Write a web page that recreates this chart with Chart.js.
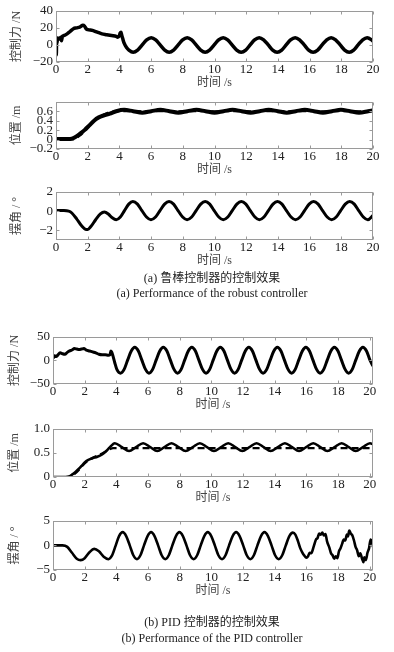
<!DOCTYPE html>
<html>
<head>
<meta charset="utf-8">
<script src="https://cdn.jsdelivr.net/npm/chart.js@4"></script>
<style>
  body { margin: 0; background: #fff; width: 394px; height: 652px; position: relative; overflow: hidden; }
  .panel { position: absolute; left: 0; width: 394px; }
  .cap { position: absolute; left: 12px; width: 400px; text-align: center; font-size: 12px; line-height: 16px;
         color: #222; font-family: "Liberation Serif", "Noto Sans CJK SC", serif; white-space: nowrap; }
</style>
</head>
<body>
<div class="panel" style="top:0"><canvas id="c1" width="394" height="92"></canvas></div>
<div class="panel" style="top:91px"><canvas id="c2" width="394" height="88"></canvas></div>
<div class="panel" style="top:181px"><canvas id="c3" width="394" height="89"></canvas></div>
<div class="cap" style="top:270px">(a) 鲁棒控制器的控制效果</div>
<div class="cap" style="top:285px">(a) Performance of the robust controller</div>
<div class="panel" style="top:326px"><canvas id="c4" width="394" height="88"></canvas></div>
<div class="panel" style="top:418px"><canvas id="c5" width="394" height="89"></canvas></div>
<div class="panel" style="top:510px"><canvas id="c6" width="394" height="90"></canvas></div>
<div class="cap" style="top:614px">(b) PID 控制器的控制效果</div>
<div class="cap" style="top:630px">(b) Performance of the PID controller</div>

<script>
// 坐标刻度
const timeTicks = [0, 2, 4, 6, 8, 10, 12, 14, 16, 18, 20];
const forceTicksA = [-20, 0, 20, 40];
const posTicksA = [-0.2, 0, 0.2, 0.4, 0.6];
const angleTicksA = [-2, 0, 2];
const forceTicksB = [-50, 0, 50];
const posTicksB = [0, 0.5, 1.0];
const angleTicksB = [-5, 0, 5];

// (a) 鲁棒控制器：控制力
const forceA_t = [0, 0.02, 0.04, 0.06, 0.1, 0.2, 0.3, 0.35, 0.4, 0.5, 0.7, 0.9, 1.1, 1.3, 1.5, 1.7, 1.8, 1.9, 2.0, 2.3, 2.6, 2.9, 3.2, 3.5, 3.8, 3.9, 4.0, 4.05, 4.1, 4.15, 4.2, 4.3, 4.45, 4.6,
  4.87, 5.15, 5.44, 5.72, 6.01, 6.29, 6.57, 6.86, 7.14, 7.42, 7.71, 7.99, 8.28, 8.56, 8.84, 9.13, 9.41, 9.69, 9.98, 10.26, 10.55, 10.83, 11.11, 11.40,
  11.68, 11.97, 12.25, 12.53, 12.82, 13.10, 13.39, 13.67, 13.95, 14.24, 14.52, 14.80, 15.09, 15.37, 15.66, 15.94, 16.22, 16.51, 16.79, 17.08,
  17.36, 17.64, 17.93, 18.21, 18.50, 18.78, 19.06, 19.35, 19.63, 19.91, 20.0];
const forceA_v = [0, -12, 8, 2, 8, 7, 9, 5, 10, 11, 13, 16, 19, 20, 21, 23, 22, 19, 18, 17, 15, 13, 12, 11, 10, 9, 11, 14, 15, 11, 8, 2, -3, -6,
  -8.5, -6, 0, 6, 8.5, 6, 0, -6, -8.5, -6, 0, 6, 8.5, 6, 0, -6, -8.5, -6, 0, 6, 8.5, 6, 0, -6,
  -8.5, -6, 0, 6, 8.5, 6, 0, -6, -8.5, -6, 0, 6, 8.5, 6, 0, -6, -8.5, -6, 0, 6,
  8.5, 6, 0, -6, -8.5, -6, 0, 6, 8.5, 6, 4.5];

// (a) 位置与期望位置
const posA_t = [0, 0.8, 1.0, 1.2, 1.5, 1.8, 2.1, 2.4, 2.7, 3.0, 3.4, 3.8, 4.3, 4.87, 5.44, 6.01, 6.58, 7.15, 7.72, 8.29, 8.86, 9.43, 10.0, 10.57,
  11.14, 11.71, 12.28, 12.85, 13.42, 13.99, 14.56, 15.13, 15.7, 16.27, 16.84, 17.41, 17.98, 18.55, 19.12, 19.69, 20.0];
const posA_v = [0.01, 0.01, 0.02, 0.05, 0.12, 0.2, 0.3, 0.4, 0.47, 0.51, 0.55, 0.6, 0.63, 0.6, 0.57, 0.6, 0.63, 0.6, 0.57, 0.6, 0.63, 0.6, 0.57, 0.6,
  0.63, 0.6, 0.57, 0.6, 0.63, 0.6, 0.57, 0.6, 0.63, 0.6, 0.57, 0.6, 0.63, 0.6, 0.57, 0.6, 0.62];
const refA_t = [0, 1.0, 1.5, 2.0, 2.5, 3.0, 3.5, 4.0, 20.0];
const refA_v = [0, 0, 0.08, 0.25, 0.42, 0.53, 0.59, 0.6, 0.6];

// (a) 摆角
const angleA_t = [0, 0.5, 0.8, 1.0, 1.3, 1.6, 1.9, 2.0, 2.2, 2.5, 2.8, 3.05, 3.3, 3.55, 3.8, 4.06, 4.32, 4.59,
  4.85, 5.14, 5.42, 5.71, 5.99, 6.28, 6.56, 6.85, 7.13, 7.42, 7.70, 7.99, 8.27, 8.56, 8.84, 9.13, 9.41, 9.70, 9.98, 10.27, 10.55, 10.84, 11.12, 11.41,
  11.69, 11.98, 12.26, 12.55, 12.83, 13.12, 13.40, 13.69, 13.97, 14.26, 14.54, 14.83, 15.11, 15.40, 15.68, 15.97, 16.25, 16.54, 16.82, 17.11,
  17.39, 17.68, 17.96, 18.25, 18.53, 18.82, 19.10, 19.39, 19.67, 20.0];
const angleA_v = [0.05, 0.05, 0, -0.2, -0.8, -1.5, -1.9, -1.9, -1.6, -0.9, -0.3, -0.1, -0.3, -0.7, -0.9, -0.62, 0.05, 0.72,
  1.0, 0.72, 0.05, -0.62, -0.9, -0.62, 0.05, 0.72, 1.0, 0.72, 0.05, -0.62, -0.9, -0.62, 0.05, 0.72, 1.0, 0.72, 0.05, -0.62, -0.9, -0.62, 0.05, 0.72,
  1.0, 0.72, 0.05, -0.62, -0.9, -0.62, 0.05, 0.72, 1.0, 0.72, 0.05, -0.62, -0.9, -0.62, 0.05, 0.72, 1.0, 0.72, 0.05, -0.62,
  -0.9, -0.62, 0.05, 0.72, 1.0, 0.72, 0.05, -0.62, -0.9, -0.45];

// (b) PID 控制器：控制力
const forceB_t = [0, 0.05, 0.1, 0.2, 0.3, 0.45, 0.6, 0.75, 0.9, 1.05, 1.2, 1.35, 1.5, 1.65, 1.8, 1.95, 2.1, 2.3, 2.5, 2.7, 2.9, 3.1, 3.3, 3.5, 3.6, 3.65, 3.7, 3.78, 3.9, 4.03,
  4.26, 4.49, 4.71, 4.94, 5.16, 5.39, 5.61, 5.84, 6.06, 6.29, 6.51, 6.74, 6.96, 7.19, 7.41, 7.64, 7.86, 8.09, 8.31, 8.54, 8.76, 8.99, 9.21, 9.44,
  9.66, 9.89, 10.11, 10.34, 10.56, 10.79, 11.01, 11.24, 11.46, 11.69, 11.91, 12.14, 12.36, 12.59, 12.81, 13.04, 13.26, 13.49, 13.71, 13.94,
  14.16, 14.39, 14.61, 14.84, 15.06, 15.29, 15.51, 15.74, 15.96, 16.19, 16.41, 16.64, 16.86, 17.09, 17.31, 17.54, 17.76, 17.99, 18.21, 18.44,
  18.66, 18.89, 19.11, 19.34, 19.56, 19.79, 20.01, 20.2];
const forceB_v = [10, 6, 10, 8, 11, 16, 14, 13, 17, 20, 22, 25, 24, 23, 24, 25, 22, 20, 18, 16, 13, 12, 12, 11, 12, 20, 18, 10, -5, -19,
  -27, -19, 0.5, 20, 28, 20, 0.5, -19, -27, -19, 0.5, 20, 28, 20, 0.5, -19, -27, -19, 0.5, 20, 28, 20, 0.5, -19,
  -27, -19, 0.5, 20, 28, 20, 0.5, -19, -27, -19, 0.5, 20, 28, 20, 0.5, -19, -27, -19, 0.5, 20,
  28, 20, 0.5, -19, -27, -19, 0.5, 20, 28, 20, 0.5, -19, -27, -19, 0.5, 20, 28, 20, 0.5, -19,
  -27, -19, 0.5, 20, 28, 20, 0.5, -12];

// (b) 位置与期望位置
const posB_t = [0, 0.8, 1.0, 1.2, 1.4, 1.6, 1.8, 2.0, 2.2, 2.5, 2.8, 3.1, 3.4, 3.65, 3.9, 4.35, 4.8, 5.24, 5.69, 6.14, 6.58, 7.03, 7.48, 7.93, 8.37, 8.82,
  9.27, 9.72, 10.16, 10.61, 11.06, 11.51, 11.95, 12.4, 12.85, 13.3, 13.74, 14.19, 14.64, 15.09, 15.53, 15.98, 16.43, 16.88, 17.32, 17.77,
  18.22, 18.67, 19.11, 19.56, 20.01, 20.2];
const posB_v = [0, 0, 0.01, 0.05, 0.1, 0.16, 0.23, 0.3, 0.35, 0.39, 0.42, 0.47, 0.55, 0.64, 0.70, 0.62, 0.54, 0.62, 0.70, 0.62, 0.54, 0.62, 0.70, 0.62, 0.54, 0.62,
  0.70, 0.62, 0.54, 0.62, 0.70, 0.62, 0.54, 0.62, 0.70, 0.62, 0.54, 0.62, 0.70, 0.62, 0.54, 0.62, 0.70, 0.62, 0.54, 0.62,
  0.70, 0.62, 0.54, 0.62, 0.70, 0.68];
const refB_t = [0, 1.0, 1.5, 2.0, 2.5, 3.0, 3.5, 3.8, 20.2];
const refB_v = [0, 0, 0.1, 0.28, 0.4, 0.47, 0.56, 0.6, 0.6];

// (b) 摆角
const angleB_t = [0, 0.6, 0.9, 1.2, 1.5, 1.75, 2.0, 2.3, 2.6, 2.9, 3.2, 3.5, 3.72, 3.95, 4.17,
  4.40, 4.62, 4.85, 5.07, 5.30, 5.52, 5.74, 5.97, 6.19, 6.41, 6.64, 6.86, 7.09, 7.31, 7.53, 7.76, 7.98, 8.20, 8.43, 8.65, 8.88, 9.10, 9.32, 9.55,
  9.77, 9.99, 10.22, 10.44, 10.67, 10.89, 11.11, 11.34, 11.56, 11.78, 12.01, 12.23, 12.46, 12.68, 12.90, 13.13, 13.35, 13.57, 13.80, 14.02,
  14.25, 14.47, 14.69, 14.92, 15.14, 15.3, 15.45, 15.6, 15.75, 15.85, 16.0, 16.1, 16.2, 16.3, 16.45, 16.6, 16.7, 16.8, 16.9, 17.0, 17.1, 17.2,
  17.3, 17.45, 17.55, 17.65, 17.75, 17.85, 17.95, 18.05, 18.15, 18.25, 18.35, 18.45, 18.55, 18.62, 18.7, 18.8, 18.9, 19.0, 19.1, 19.2, 19.3,
  19.4, 19.5, 19.6, 19.65, 19.75, 19.85, 19.95, 20.05, 20.12, 20.2];
const angleB_v = [0, 0, -0.3, -1.5, -2.7, -3.0, -2.6, -1.4, -0.7, -1.2, -2.3, -2.8, -2.1, -0.1, 1.9,
  2.7, 1.9, -0.05, -2.0, -2.8, -2.0, -0.05, 1.9, 2.7, 1.9, -0.05, -2.0, -2.8, -2.0, -0.05, 1.9, 2.7, 1.9, -0.05, -2.0, -2.8, -2.0, -0.05, 1.9,
  2.7, 1.9, -0.05, -2.0, -2.8, -2.0, -0.05, 1.9, 2.7, 1.9, -0.05, -2.0, -2.8, -2.0, -0.05, 1.9, 2.7, 1.9, -0.05, -2.0,
  -2.8, -2.0, -0.05, 1.9, 2.6, 2.2, 1.0, -0.5, -1.5, -2.0, -2.5, -2.2, -1.5, -1.6, -0.3, 1.2, 1.5, 2.4, 2.2, 2.6, 2.0, 2.3,
  0.8, -0.5, -1.6, -2.0, -2.7, -2.2, -2.6, -1.2, -0.6, 0.3, 1.2, 1.0, 2.2, 1.8, 3.0, 2.4, 2.0, 1.0, -0.3, -1.0, -2.2,
  -1.6, -2.6, -3.4, -2.4, -3.0, -1.5, -0.6, 1.2, 0.8, -0.3];

const tickFont = { family: "'Liberation Serif', serif", size: 13 };
const labelFont = { family: "'Liberation Serif', 'Noto Sans CJK SC', serif", size: 12 };

function pts(t, v) {
  return t.map((x, i) => ({ x: x, y: v[i] }));
}

function fmt(v) {
  const s = Math.abs(v) < 1e-9 ? '0' : String(Math.round(v * 100) / 100);
  return s.replace('-', '\u2212');
}

// 外框和向内的刻度线（MATLAB 风格）
const boxPlugin = {
  id: 'box',
  afterDraw(chart) {
    const { ctx, chartArea: a, scales: { x, y } } = chart;
    const l = Math.round(a.left) + 0.5, r = Math.round(a.right) - 0.5;
    const t = Math.round(a.top) + 0.5, b = Math.round(a.bottom) - 0.5;
    ctx.save();
    ctx.strokeStyle = '#9a9a9a';
    ctx.lineWidth = 1;
    ctx.strokeRect(l, t, r - l, b - t);
    ctx.beginPath();
    x.ticks.forEach(tk => {
      const p = Math.round(x.getPixelForValue(tk.value)) + 0.5;
      ctx.moveTo(p, b); ctx.lineTo(p, b - 3);
      ctx.moveTo(p, t); ctx.lineTo(p, t + 3);
    });
    y.ticks.forEach(tk => {
      const p = Math.round(y.getPixelForValue(tk.value)) + 0.5;
      ctx.moveTo(l, p); ctx.lineTo(l + 3, p);
      ctx.moveTo(r, p); ctx.lineTo(r - 3, p);
    });
    ctx.stroke();
    ctx.restore();
  }
};

function panel(id, o) {
  new Chart(document.getElementById(id), {
    type: 'line',
    data: {
      datasets: o.sets.map(s => ({
        data: pts(s.t, s.v),
        borderColor: '#000',
        borderWidth: s.w,
        borderDash: s.dash || [],
        pointRadius: 0,
        cubicInterpolationMode: 'monotone',
        fill: false
      }))
    },
    options: {
      responsive: false,
      animation: false,
      events: [],
      layout: { padding: { top: 9, right: o.right, left: 0, bottom: 0 } },
      plugins: { legend: { display: false }, tooltip: { enabled: false } },
      scales: {
        x: {
          type: 'linear', min: 0, max: o.xMax,
          afterBuildTicks: s => { s.ticks = timeTicks.map(v => ({ value: v })); },
          afterFit: s => { s.height = 30; },
          grid: { display: false, drawTicks: false },
          border: { display: false },
          ticks: { font: tickFont, color: '#222', padding: 0, maxRotation: 0, autoSkip: false, callback: v => fmt(v) },
          title: { display: true, text: '时间 /s', font: labelFont, color: '#444', padding: { top: 0, bottom: 2 } }
        },
        y: {
          type: 'linear', min: o.yMin, max: o.yMax,
          afterBuildTicks: s => { s.ticks = o.yTicks.map(v => ({ value: v })); },
          afterFit: s => { s.width = o.left; },
          grid: { display: false, drawTicks: false },
          border: { display: false },
          ticks: { font: tickFont, color: '#222', padding: 3, autoSkip: false, callback: v => (o.yFmt ? o.yFmt(v) : fmt(v)) },
          title: { display: true, text: o.yTitle, font: labelFont, color: '#444', padding: { top: o.titlePad, bottom: 0 } }
        }
      }
    },
    plugins: [boxPlugin]
  });
}

panel('c1', { xMax: 20, yMin: -20, yMax: 40, yTicks: forceTicksA, left: 56, right: 21, titlePad: 10, yTitle: '控制力 /N',
  sets: [{ t: forceA_t, v: forceA_v, w: 3.5 }] });
panel('c2', { xMax: 20, yMin: -0.2, yMax: 0.8, yTicks: posTicksA, left: 56, right: 21, titlePad: 10, yTitle: '位置 /m',
  sets: [{ t: refA_t, v: refA_v, w: 2, dash: [7, 4] }, { t: posA_t, v: posA_v, w: 4 }] });
panel('c3', { xMax: 20, yMin: -3, yMax: 2, yTicks: angleTicksA, left: 56, right: 21, titlePad: 10, yTitle: '摆角 / °',
  sets: [{ t: angleA_t, v: angleA_v, w: 3 }] });
panel('c4', { xMax: 20.2, yMin: -50, yMax: 50, yTicks: forceTicksB, left: 53, right: 21, titlePad: 8, yTitle: '控制力 /N',
  sets: [{ t: forceB_t, v: forceB_v, w: 3 }] });
panel('c5', { xMax: 20.2, yMin: 0, yMax: 1, yTicks: posTicksB, left: 53, right: 21, titlePad: 8, yTitle: '位置 /m',
  yFmt: v => (v === 0 ? '0' : v.toFixed(1)),
  sets: [{ t: refB_t, v: refB_v, w: 2.2, dash: [7, 4] }, { t: posB_t, v: posB_v, w: 2.6 }] });
panel('c6', { xMax: 20.2, yMin: -5, yMax: 5, yTicks: angleTicksB, left: 53, right: 21, titlePad: 8, yTitle: '摆角 / °',
  sets: [{ t: angleB_t, v: angleB_v, w: 2.6 }] });
</script>
</body>
</html>
